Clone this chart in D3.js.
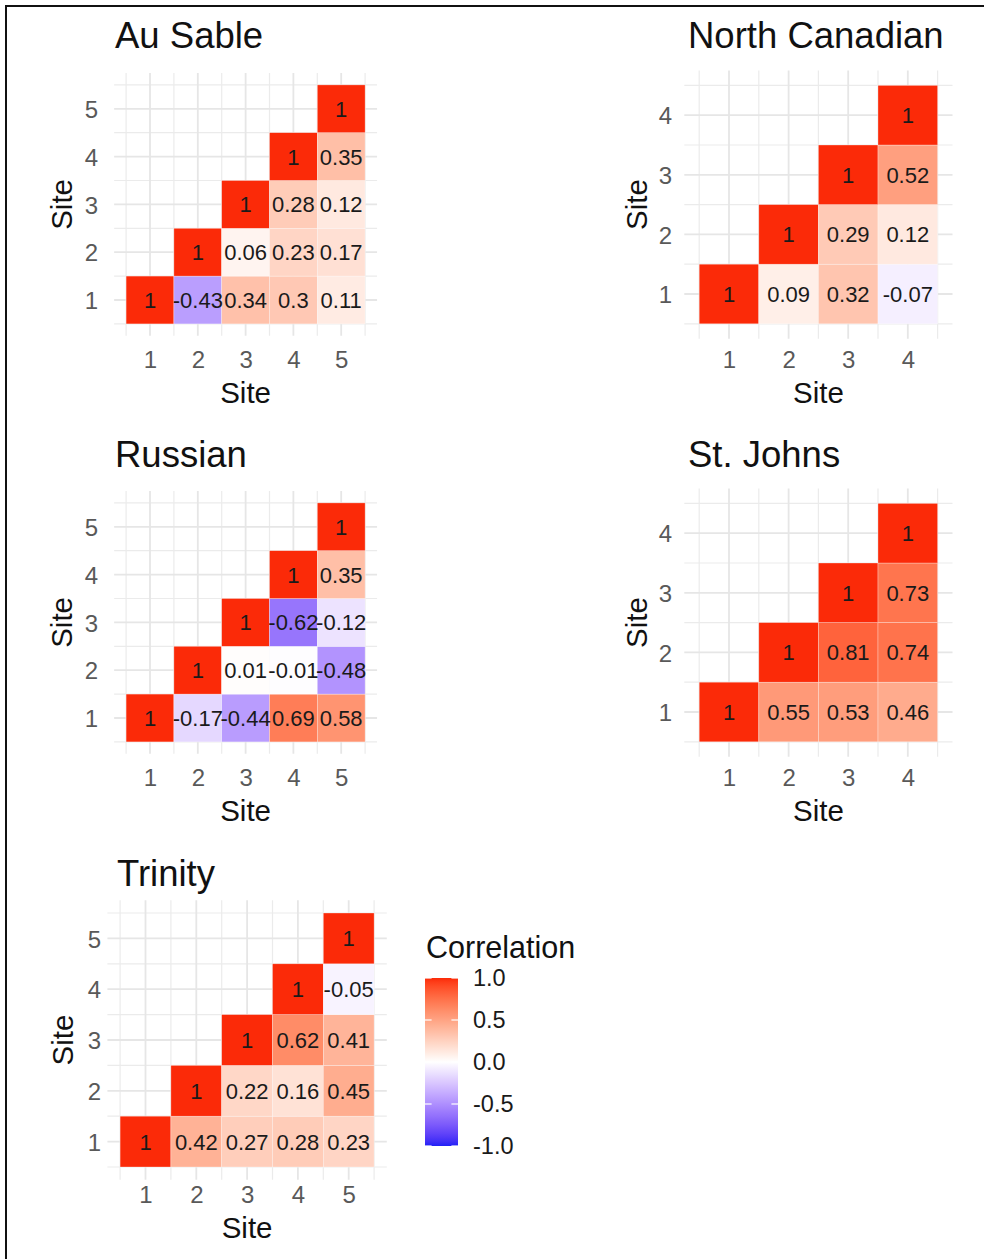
<!DOCTYPE html>
<html>
<head>
<meta charset="utf-8">
<script src="https://cdnjs.cloudflare.com/ajax/libs/d3/7.8.5/d3.min.js"></script>
<style>
  html, body { margin: 0; padding: 0; background: #fff; }
  svg { display: block; font-family: "Liberation Sans", Arial, Helvetica, sans-serif; }
</style>
</head>
<body>
<div id="chart"></div>
<script>
// Pairwise site correlations per river (upper triangle).
// Row i holds the correlations of site i with sites i, i+1, ..., n.
const auSableSites = [1, 2, 3, 4, 5];
const auSableCorr = [
  [1, -0.43, 0.34, 0.3, 0.11],
  [1, 0.06, 0.23, 0.17],
  [1, 0.28, 0.12],
  [1, 0.35],
  [1]
];

const northCanadianSites = [1, 2, 3, 4];
const northCanadianCorr = [
  [1, 0.09, 0.32, -0.07],
  [1, 0.29, 0.12],
  [1, 0.52],
  [1]
];

const russianSites = [1, 2, 3, 4, 5];
const russianCorr = [
  [1, -0.17, -0.44, 0.69, 0.58],
  [1, 0.01, -0.01, -0.48],
  [1, -0.62, -0.12],
  [1, 0.35],
  [1]
];

const stJohnsSites = [1, 2, 3, 4];
const stJohnsCorr = [
  [1, 0.55, 0.53, 0.46],
  [1, 0.81, 0.74],
  [1, 0.73],
  [1]
];

const trinitySites = [1, 2, 3, 4, 5];
const trinityCorr = [
  [1, 0.42, 0.27, 0.28, 0.23],
  [1, 0.22, 0.16, 0.45],
  [1, 0.62, 0.41],
  [1, -0.05],
  [1]
];

const legendBreaks = [-1.0, -0.5, 0.0, 0.5, 1.0];
const legendTitle = "Correlation";
const axisTitle = "Site";

// Panel placement on the page
const panels = [
  { title: "Au Sable",       sites: auSableSites,       corr: auSableCorr,
    x0: 150,   y0: 300,    unit: 47.8, titleX: 115, titleY: 48,
    yTickX: 98,  yTitleX: 72,  xTickY: 368,  xTitleY: 403 },
  { title: "North Canadian", sites: northCanadianSites, corr: northCanadianCorr,
    x0: 729,   y0: 294,    unit: 59.6, titleX: 688, titleY: 48,
    yTickX: 672, yTitleX: 647, xTickY: 368,  xTitleY: 403 },
  { title: "Russian",        sites: russianSites,       corr: russianCorr,
    x0: 150,   y0: 718,    unit: 47.8, titleX: 115, titleY: 467,
    yTickX: 98,  yTitleX: 72,  xTickY: 786,  xTitleY: 821 },
  { title: "St. Johns",      sites: stJohnsSites,       corr: stJohnsCorr,
    x0: 729,   y0: 712,    unit: 59.6, titleX: 688, titleY: 467,
    yTickX: 672, yTitleX: 647, xTickY: 786,  xTitleY: 821 },
  { title: "Trinity",        sites: trinitySites,       corr: trinityCorr,
    x0: 145.5, y0: 1141.6, unit: 50.8, titleX: 117, titleY: 886,
    yTickX: 101, yTitleX: 73,  xTickY: 1203, xTitleY: 1238 }
];

const W = 984, H = 1259;
const svg = d3.select("#chart").append("svg")
  .attr("width", W).attr("height", H);

svg.append("rect").attr("width", W).attr("height", H).attr("fill", "#fff");

// Diverging fill: blue - white - red, interpolated in Lab space
const fill = d3.scaleLinear()
  .domain([-1, 0, 1])
  .range(["#2020f6", "#ffffff", "#fb2a08"])
  .interpolate(d3.interpolateLab);

const fmt = v => String(v);

panels.forEach(p => {
  const n = p.sites.length;
  const x = d3.scaleLinear()
    .domain([0.25, n + 0.75])
    .range([p.x0 - 0.75 * p.unit, p.x0 + (n - 0.25) * p.unit]);
  const y = d3.scaleLinear()
    .domain([0.25, n + 0.75])
    .range([p.y0 + 0.75 * p.unit, p.y0 - (n - 0.25) * p.unit]);

  const g = svg.append("g");

  // grid: minor lines between sites, major lines on sites
  const minor = d3.range(0, n + 1).map(i => i + 0.5);
  const major = p.sites;
  const grid = g.append("g");
  const [xa, xb] = x.range();
  const [ya, yb] = y.range();
  grid.selectAll("line.vmin").data(minor).join("line")
    .attr("x1", d => x(d)).attr("x2", d => x(d)).attr("y1", ya).attr("y2", yb)
    .attr("stroke", "#ebebeb").attr("stroke-width", 1.2);
  grid.selectAll("line.hmin").data(minor).join("line")
    .attr("y1", d => y(d)).attr("y2", d => y(d)).attr("x1", xa).attr("x2", xb)
    .attr("stroke", "#ebebeb").attr("stroke-width", 1.2);
  grid.selectAll("line.vmaj").data(major).join("line")
    .attr("x1", d => x(d)).attr("x2", d => x(d)).attr("y1", ya).attr("y2", yb)
    .attr("stroke", "#e6e6e6").attr("stroke-width", 1.8);
  grid.selectAll("line.hmaj").data(major).join("line")
    .attr("y1", d => y(d)).attr("y2", d => y(d)).attr("x1", xa).attr("x2", xb)
    .attr("stroke", "#e6e6e6").attr("stroke-width", 1.8);

  // tiles
  const cells = [];
  p.corr.forEach((row, i) => {
    row.forEach((v, k) => {
      cells.push({ row: p.sites[i], col: p.sites[i + k], value: v });
    });
  });

  g.selectAll("rect.tile").data(cells).join("rect")
    .attr("class", "tile")
    .attr("x", d => x(d.col - 0.5))
    .attr("y", d => y(d.row + 0.5))
    .attr("width", d => x(d.col + 0.5) - x(d.col - 0.5))
    .attr("height", d => y(d.row - 0.5) - y(d.row + 0.5))
    .attr("fill", d => fill(d.value))
    .attr("stroke", "rgba(255,255,255,0.5)")
    .attr("stroke-width", 0.6);

  g.selectAll("text.val").data(cells).join("text")
    .attr("class", "val")
    .attr("x", d => x(d.col))
    .attr("y", d => y(d.row))
    .attr("dy", "0.36em")
    .attr("text-anchor", "middle")
    .attr("font-size", 22)
    .attr("fill", "#1a1a1a")
    .text(d => fmt(d.value));

  // axes (labels only, no lines)
  const xAxis = g.append("g")
    .call(d3.axisBottom(x).tickValues(p.sites).tickSize(0).tickFormat(d3.format("d")));
  xAxis.select(".domain").remove();
  xAxis.selectAll("text")
    .attr("y", p.xTickY).attr("dy", 0)
    .attr("font-size", 24).attr("fill", "#595959")
    .attr("font-family", null);

  const yAxis = g.append("g")
    .call(d3.axisLeft(y).tickValues(p.sites).tickSize(0).tickFormat(d3.format("d")));
  yAxis.select(".domain").remove();
  yAxis.selectAll("text")
    .attr("x", p.yTickX).attr("dy", "0.36em")
    .attr("font-size", 24).attr("fill", "#595959")
    .attr("font-family", null);

  // titles
  g.append("text")
    .attr("x", p.titleX).attr("y", p.titleY)
    .attr("font-size", 36.5).attr("fill", "#111")
    .text(p.title);

  g.append("text")
    .attr("x", x((n + 1) / 2)).attr("y", p.xTitleY)
    .attr("text-anchor", "middle")
    .attr("font-size", 29.5).attr("fill", "#111")
    .text(axisTitle);

  g.append("text")
    .attr("transform", `translate(${p.yTitleX},${y((n + 1) / 2)}) rotate(-90)`)
    .attr("text-anchor", "middle")
    .attr("font-size", 29.5).attr("fill", "#111")
    .text(axisTitle);
});

// colour bar legend
const leg = svg.append("g");
const barX = 425, barW = 33;
const ly = d3.scaleLinear().domain([-1, 1]).range([1146, 978]);

const grad = svg.append("defs").append("linearGradient")
  .attr("id", "corrGrad")
  .attr("x1", 0).attr("x2", 0).attr("y1", 1).attr("y2", 0);
d3.range(0, 41).forEach(i => {
  const v = -1 + i / 20;
  grad.append("stop").attr("offset", i / 40).attr("stop-color", fill(v));
});

leg.append("rect")
  .attr("x", barX).attr("y", ly(1))
  .attr("width", barW).attr("height", ly(-1) - ly(1))
  .attr("fill", "url(#corrGrad)");

leg.selectAll("line.tl").data(legendBreaks).join("line")
  .attr("x1", barX).attr("x2", barX + barW / 5)
  .attr("y1", d => ly(d)).attr("y2", d => ly(d))
  .attr("stroke", "#fff").attr("stroke-width", 1.2);
leg.selectAll("line.tr").data(legendBreaks).join("line")
  .attr("x1", barX + barW).attr("x2", barX + barW * 4 / 5)
  .attr("y1", d => ly(d)).attr("y2", d => ly(d))
  .attr("stroke", "#fff").attr("stroke-width", 1.2);

leg.selectAll("text.lab").data(legendBreaks).join("text")
  .attr("x", 473).attr("y", d => ly(d)).attr("dy", "0.36em")
  .attr("font-size", 23.5).attr("fill", "#1a1a1a")
  .text(d => d3.format(".1f")(d).replace("−", "-"));

leg.append("text")
  .attr("x", 426).attr("y", 958)
  .attr("font-size", 30.5).attr("fill", "#111")
  .text(legendTitle);

// frame lines along the top and left edges
svg.append("line").attr("x1", 5).attr("x2", W).attr("y1", 6).attr("y2", 6)
  .attr("stroke", "#111").attr("stroke-width", 2);
svg.append("line").attr("x1", 6).attr("x2", 6).attr("y1", 5).attr("y2", H)
  .attr("stroke", "#111").attr("stroke-width", 2);
</script>
</body>
</html>
